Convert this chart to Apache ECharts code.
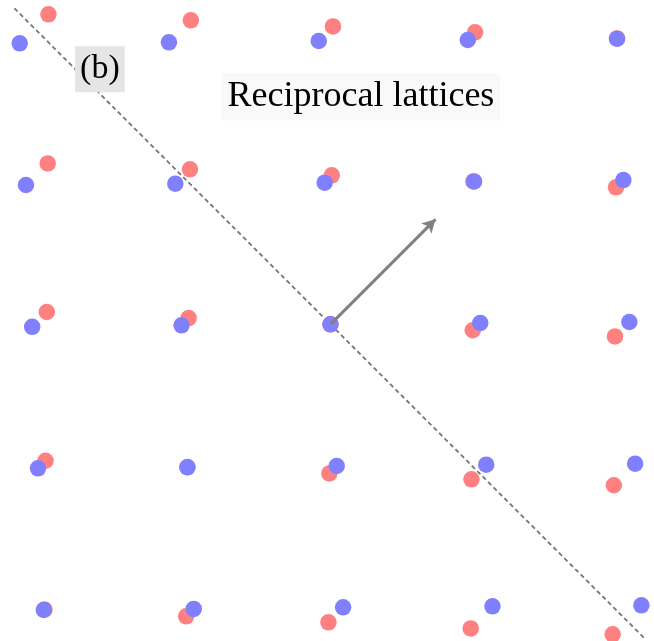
<!DOCTYPE html>
<html>
<head>
<meta charset="utf-8">
<script src="https://cdn.jsdelivr.net/npm/echarts@6/dist/echarts.min.js"></script>
<style>
  html, body { margin: 0; padding: 0; background: #fff; }
  #chart { width: 654px; height: 641px; }
</style>
</head>
<body>
<div id="chart"></div>
<script>
// Reciprocal lattice points of the two layers (row by row, top to bottom)
const blueX = [-2.143, -1.114, -0.081, 0.947, 1.976,
               -2.100, -1.070, -0.040, 0.990, 2.020,
               -2.057, -1.027,  0.000, 1.033, 2.061,
               -2.017, -0.987,  0.043, 1.074, 2.101,
               -1.977, -0.943,  0.087, 1.117, 2.144];
const blueY = [ 1.938,  1.945,  1.954,  1.961,  1.970,
                0.961,  0.970,  0.977,  0.986,  0.995,
               -0.017, -0.007,  0.000,  0.009,  0.016,
               -0.993, -0.986, -0.977, -0.968, -0.961,
               -1.970, -1.963, -1.952, -1.945, -1.938];
const redX  = [-1.945, -0.963,  0.017,  0.997,  1.976,
               -1.950, -0.969,  0.009,  0.986,  1.969,
               -1.956, -0.978,  0.000,  0.981,  1.962,
               -1.965, -0.986, -0.008,  0.972,  1.954,
               -1.972, -0.995, -0.014,  0.967,  1.946];
const redY  = [ 2.138,  2.097,  2.055,  2.014,  1.972,
                1.110,  1.069,  1.028,  0.986,  0.945,
                0.085,  0.043,  0.000, -0.041, -0.083,
               -0.941, -0.984, -1.028, -1.069, -1.110,
               -1.967, -2.014, -2.055, -2.097, -2.138];

// Reference line and reciprocal vector
const dashedLine = [[-2.18, 2.18], [2.16, -2.16]];
const vectorFrom = [0, 0];
const vectorTo = [0.724, 0.724];

// Annotations: [text, x, y]
const panelLabel = ['(b)', -1.590, 1.760];
const titleLabel = ['Reciprocal lattices', 0.210, 1.568];

const zip = (xs, ys) => xs.map((x, i) => [x, ys[i]]);

const chart = echarts.init(document.getElementById('chart'), null, { renderer: 'canvas' });

const option = {
  animation: false,
  backgroundColor: '#ffffff',
  grid: { left: 0, right: 0, top: 0, bottom: 0 },
  xAxis: { type: 'value', min: -2.279, max: 2.231, show: false },
  yAxis: { type: 'value', min: -2.184, max: 2.237, show: false },
  series: [
    {
      type: 'line', data: dashedLine, symbol: 'none', z: 1,
      lineStyle: { color: '#767676', width: 1.8, type: [4.5, 3.2] }
    },
    {
      type: 'scatter', name: 'layer 2',
      data: zip(redX, redY), symbolSize: 16.5,
      itemStyle: { color: '#ff8080', opacity: 1 }, z: 2
    },
    {
      type: 'scatter', name: 'layer 1',
      data: zip(blueX, blueY), symbolSize: 16.5,
      itemStyle: { color: '#8080ff', opacity: 1 }, z: 3,
      markLine: {
        silent: true, animation: false,
        symbol: ['none', 'arrow'], symbolSize: [11, 13],
        label: { show: false },
        lineStyle: { color: '#808080', width: 3, type: 'solid' },
        emphasis: { disabled: true },
        data: [[{ coord: vectorFrom }, { coord: vectorTo }]]
      }
    }
  ]
};
chart.setOption(option);

function place(label, size, bg, pad, lh) {
  const p = chart.convertToPixel({ gridIndex: 0 }, [label[1], label[2]]);
  return {
    type: 'text', x: p[0], y: p[1], z: 10,
    style: {
      text: label[0],
      font: size + 'px "Liberation Serif", serif',
      fill: '#000000',
      align: 'center', verticalAlign: 'middle',
      backgroundColor: bg, padding: pad, lineHeight: lh
    }
  };
}

chart.setOption({
  graphic: [
    place(panelLabel, 34, '#e5e5e5', [5, 5, 5, 5], 36),
    place(titleLabel, 36, '#f9f9f9', [5, 6, 5, 6], 37)
  ]
});
</script>
</body>
</html>
